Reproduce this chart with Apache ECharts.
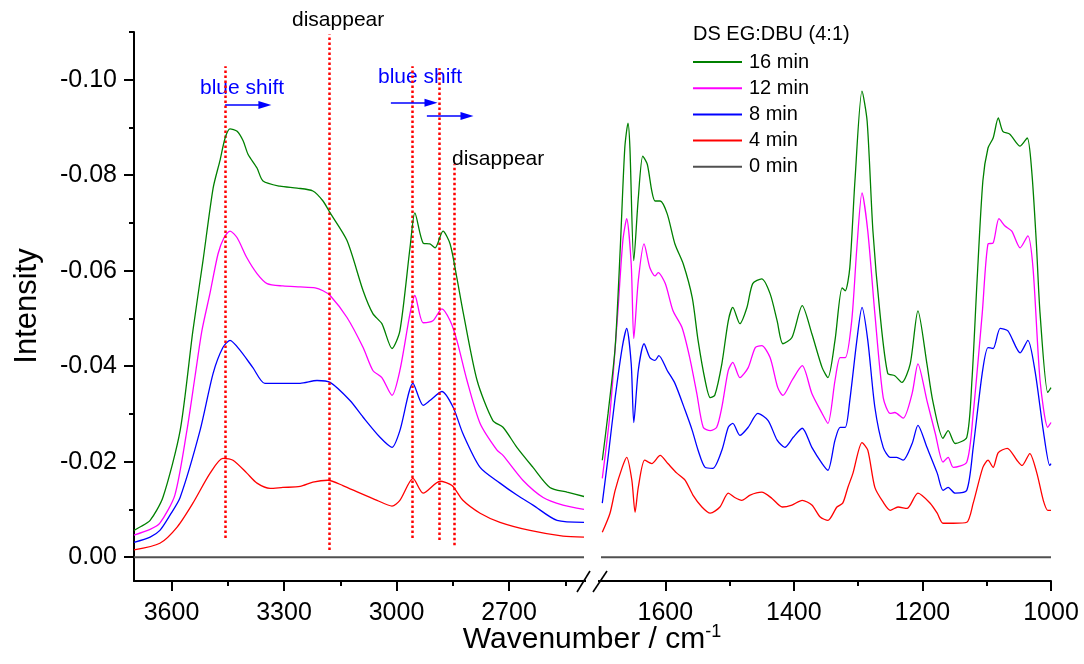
<!DOCTYPE html>
<html>
<head>
<meta charset="utf-8">
<script src="https://cdn.jsdelivr.net/npm/echarts@6/dist/echarts.min.js"></script>
<style>
html,body{margin:0;padding:0;background:#fff;}
#chart{width:1084px;height:664px;}
</style>
</head>
<body>
<div id="chart"></div>
<script>
// ---------- data (wavenumber cm-1, intensity) ----------
const names = ['16 min','12 min','8 min','4 min','0 min'];
const colors = ['#008000','#ff00ff','#0000ff','#ff0000','#505050'];

const g16L = [[3700,-0.0056],[3684,-0.0063],[3657,-0.0077],[3623,-0.0125],[3577,-0.0265],[3543,-0.0474],[3516,-0.0621],[3489,-0.0773],[3471,-0.083],[3457,-0.0878],[3444,-0.0897],[3425,-0.0892],[3409,-0.0872],[3396,-0.0844],[3372,-0.0815],[3356,-0.0788],[3311,-0.0777],[3265,-0.0773],[3223,-0.0767],[3196,-0.0746],[3177,-0.0721],[3132,-0.0663],[3089,-0.0558],[3063,-0.051],[3039,-0.0489],[3012,-0.0437],[2991,-0.0474],[2964,-0.0648],[2951,-0.0721],[2929,-0.0658],[2911,-0.0656],[2897,-0.0648],[2876,-0.0683],[2857,-0.0656],[2839,-0.0585],[2823,-0.0516],[2785,-0.037],[2743,-0.0286],[2716,-0.0272],[2679,-0.023],[2636,-0.0188],[2591,-0.0146],[2545,-0.0136],[2500,-0.0127]];
const m12L = [[3700,-0.0046],[3657,-0.0058],[3631,-0.0071],[3591,-0.013],[3559,-0.0265],[3537,-0.038],[3519,-0.0474],[3497,-0.0554],[3476,-0.0635],[3460,-0.0669],[3444,-0.0683],[3425,-0.0669],[3399,-0.0627],[3372,-0.0594],[3345,-0.0573],[3303,-0.0568],[3257,-0.0566],[3217,-0.0564],[3196,-0.0558],[3177,-0.0548],[3132,-0.0502],[3089,-0.0439],[3063,-0.0391],[3039,-0.0376],[3012,-0.0339],[2991,-0.0391],[2964,-0.051],[2951,-0.0548],[2929,-0.0491],[2903,-0.0495],[2879,-0.052],[2857,-0.0495],[2839,-0.0454],[2812,-0.037],[2777,-0.028],[2732,-0.0224],[2716,-0.0213],[2663,-0.0161],[2609,-0.0125],[2556,-0.0109],[2500,-0.01]];
const b8L = [[3700,-0.0031],[3657,-0.0042],[3631,-0.0056],[3604,-0.0088],[3577,-0.0125],[3524,-0.0265],[3489,-0.0385],[3463,-0.0439],[3444,-0.0454],[3417,-0.0433],[3383,-0.0397],[3351,-0.0364],[3303,-0.0364],[3257,-0.0364],[3212,-0.037],[3177,-0.0366],[3124,-0.0328],[3089,-0.0293],[3044,-0.0251],[3012,-0.023],[2991,-0.0265],[2956,-0.0364],[2929,-0.0318],[2911,-0.0328],[2879,-0.0347],[2849,-0.0314],[2823,-0.0259],[2777,-0.0188],[2724,-0.0155],[2679,-0.013],[2636,-0.0109],[2572,-0.0077],[2500,-0.0073]];
const r4L = [[3700,-0.0015],[3631,-0.0029],[3585,-0.0063],[3543,-0.0113],[3497,-0.0176],[3463,-0.0207],[3436,-0.0203],[3399,-0.0176],[3372,-0.0155],[3337,-0.0144],[3303,-0.0146],[3257,-0.0148],[3223,-0.0157],[3183,-0.0161],[3143,-0.015],[3097,-0.0134],[3052,-0.0119],[3012,-0.0107],[2991,-0.0119],[2956,-0.0165],[2929,-0.0134],[2884,-0.0159],[2852,-0.015],[2823,-0.0119],[2777,-0.0092],[2724,-0.0073],[2644,-0.0056],[2556,-0.0044],[2500,-0.0042]];
const z0L = [[3700,0],[2500,0]];

const g16R = [[1698,-0.0203],[1689,-0.0301],[1678,-0.0439],[1670,-0.0648],[1663,-0.0857],[1658,-0.0909],[1655,-0.0857],[1649,-0.0621],[1642,-0.0752],[1635,-0.084],[1628,-0.0823],[1621,-0.0767],[1616,-0.0746],[1608,-0.0746],[1597,-0.0719],[1585,-0.0656],[1572,-0.0614],[1558,-0.0543],[1549,-0.0454],[1538,-0.037],[1530,-0.0334],[1523,-0.0339],[1512,-0.0405],[1502,-0.0495],[1495,-0.0523],[1484,-0.0489],[1473,-0.0523],[1464,-0.0573],[1450,-0.0583],[1437,-0.0552],[1426,-0.0495],[1417,-0.0447],[1403,-0.046],[1387,-0.0527],[1372,-0.0468],[1356,-0.0397],[1347,-0.0376],[1336,-0.0454],[1325,-0.0564],[1320,-0.0558],[1313,-0.0606],[1305,-0.0788],[1294,-0.0976],[1286,-0.0913],[1277,-0.0683],[1266,-0.051],[1254,-0.0385],[1243,-0.038],[1232,-0.0366],[1219,-0.0405],[1207,-0.0516],[1193,-0.0405],[1184,-0.0328],[1168,-0.0249],[1160,-0.0265],[1149,-0.0238],[1131,-0.0251],[1123,-0.037],[1115,-0.0579],[1106,-0.0788],[1098,-0.0857],[1090,-0.0878],[1082,-0.092],[1075,-0.0892],[1064,-0.0886],[1048,-0.0861],[1037,-0.0878],[1030,-0.0809],[1023,-0.0663],[1017,-0.051],[1005,-0.0345],[1000,-0.0355]];
const m12R = [[1698,-0.0165],[1686,-0.0301],[1674,-0.051],[1666,-0.0663],[1660,-0.0709],[1653,-0.0614],[1649,-0.0458],[1642,-0.0579],[1633,-0.0656],[1624,-0.0606],[1616,-0.0589],[1611,-0.0596],[1600,-0.0573],[1588,-0.0516],[1574,-0.0481],[1562,-0.0418],[1551,-0.0343],[1541,-0.0272],[1530,-0.0265],[1520,-0.0272],[1512,-0.0314],[1502,-0.0391],[1495,-0.0408],[1484,-0.0376],[1471,-0.0397],[1460,-0.0439],[1450,-0.0443],[1437,-0.0418],[1425,-0.0355],[1417,-0.0339],[1403,-0.037],[1387,-0.0401],[1372,-0.0343],[1356,-0.0301],[1347,-0.028],[1336,-0.037],[1328,-0.0418],[1320,-0.0418],[1310,-0.0495],[1302,-0.0648],[1294,-0.0763],[1285,-0.0683],[1274,-0.051],[1261,-0.0334],[1250,-0.0301],[1243,-0.0303],[1230,-0.0291],[1216,-0.0343],[1207,-0.0405],[1193,-0.0328],[1180,-0.0259],[1168,-0.0199],[1160,-0.0209],[1152,-0.0188],[1131,-0.0199],[1121,-0.0301],[1107,-0.051],[1098,-0.0656],[1090,-0.0658],[1081,-0.0709],[1072,-0.0694],[1061,-0.0683],[1048,-0.0648],[1036,-0.0673],[1028,-0.0606],[1017,-0.037],[1005,-0.0272],[1000,-0.0282]];
const b8R = [[1698,-0.0113],[1689,-0.0209],[1678,-0.0334],[1667,-0.0439],[1660,-0.0479],[1653,-0.0405],[1649,-0.0282],[1642,-0.0391],[1633,-0.0447],[1624,-0.0418],[1616,-0.0412],[1610,-0.0422],[1597,-0.0391],[1585,-0.0364],[1569,-0.0307],[1558,-0.0265],[1549,-0.0224],[1538,-0.0188],[1526,-0.0186],[1512,-0.0224],[1502,-0.0272],[1495,-0.028],[1484,-0.0255],[1471,-0.0272],[1456,-0.0301],[1440,-0.0286],[1426,-0.0245],[1414,-0.023],[1401,-0.0251],[1387,-0.027],[1372,-0.023],[1356,-0.0196],[1347,-0.0182],[1336,-0.0245],[1328,-0.0272],[1320,-0.0272],[1313,-0.0328],[1302,-0.0454],[1294,-0.0523],[1285,-0.0454],[1274,-0.0314],[1261,-0.023],[1250,-0.0209],[1240,-0.0209],[1230,-0.0203],[1216,-0.0238],[1207,-0.0276],[1193,-0.023],[1177,-0.0176],[1168,-0.014],[1160,-0.0146],[1149,-0.0134],[1131,-0.014],[1121,-0.023],[1107,-0.0385],[1098,-0.0439],[1090,-0.0437],[1079,-0.0479],[1067,-0.0474],[1048,-0.0428],[1036,-0.0454],[1025,-0.0391],[1012,-0.0265],[1002,-0.0192],[1000,-0.0196]];
const r4R = [[1698,-0.0052],[1686,-0.0092],[1678,-0.014],[1667,-0.0188],[1660,-0.0209],[1652,-0.0161],[1647,-0.0094],[1642,-0.0146],[1632,-0.0203],[1621,-0.0196],[1608,-0.0213],[1596,-0.0196],[1582,-0.0176],[1569,-0.0161],[1557,-0.013],[1543,-0.0105],[1530,-0.0092],[1515,-0.0105],[1502,-0.0134],[1492,-0.0125],[1481,-0.0119],[1468,-0.013],[1450,-0.0136],[1434,-0.0123],[1418,-0.0105],[1403,-0.0109],[1387,-0.0119],[1372,-0.0109],[1359,-0.0084],[1347,-0.0077],[1333,-0.0105],[1324,-0.0113],[1316,-0.0146],[1308,-0.0176],[1294,-0.024],[1285,-0.0224],[1274,-0.0146],[1261,-0.0115],[1250,-0.0098],[1238,-0.0105],[1224,-0.0102],[1207,-0.0134],[1188,-0.0113],[1177,-0.0092],[1168,-0.0071],[1152,-0.0071],[1131,-0.0073],[1121,-0.0113],[1106,-0.0188],[1098,-0.0203],[1090,-0.0188],[1082,-0.0219],[1068,-0.0228],[1053,-0.0203],[1045,-0.0192],[1033,-0.0217],[1022,-0.0176],[1012,-0.0119],[1005,-0.0098],[1000,-0.0098]];
const z0R = [[1700,0],[1000,0]];

// tick values
const xLeftMajor = [3600,3300,3000,2700];
const xLeftMinor = [3450,3150,2850,2550];
const xRightMajor = [1600,1400,1200,1000];
const xRightMinor = [1500,1300,1100];
const yMajor = [-0.10,-0.08,-0.06,-0.04,-0.02,0];
const yMinor = [-0.11,-0.09,-0.07,-0.05,-0.03,-0.01];

// annotations: [wavenumber, bottom value, top value]
const dropLines = [[3457,-0.004,-0.1028],[3180,-0.0015,-0.1095],[2958,-0.004,-0.1028],[2887,-0.0036,-0.1024],[2847,-0.0025,-0.0823]];
// arrows: [from, to, value]
const arrows = [[3457,3351,-0.0947],[3015,2908,-0.0952],[2919,2812,-0.0924]];

// ---------- chart ----------
const FONT = "'Liberation Sans', Arial, sans-serif";
const chart = echarts.init(document.getElementById('chart'), null, {renderer:'canvas'});

function majorX(grid, min, max, vals){
  return {gridIndex:grid, type:'value', min:min, max:max, inverse:true, position:'bottom',
    axisLine:{show:true, onZero:false, lineStyle:{color:'#000', width:2}},
    axisTick:{show:true, customValues:vals, length:10, lineStyle:{color:'#000', width:2}},
    axisLabel:{show:true, customValues:vals, fontSize:25, color:'#000', fontFamily:FONT, margin:20,
      formatter: v => String(Math.round(v))},
    splitLine:{show:false}};
}
function minorX(grid, min, max, vals){
  return {gridIndex:grid, type:'value', min:min, max:max, inverse:true, position:'bottom',
    axisLine:{show:false, onZero:false},
    axisTick:{show:true, customValues:vals, length:5, lineStyle:{color:'#000', width:2}},
    axisLabel:{show:false}, splitLine:{show:false}};
}
const yBase = {type:'value', min:-0.11, max:0.005, inverse:true, position:'left', splitLine:{show:false}};

const series = [];
const leftData = [g16L, m12L, b8L, r4L, z0L];
const rightData = [g16R, m12R, b8R, r4R, z0R];
for (let i = 0; i < 5; i++) {
  const common = {type:'line', name:names[i], symbol:'none', showSymbol:false,
    smooth: i < 4 ? 0.25 : false, color:colors[i],
    lineStyle:{color:colors[i], width: i < 4 ? 1.3 : 2}, emphasis:{disabled:true}, z: 5 - i};
  series.push(Object.assign({}, common, {xAxisIndex:0, yAxisIndex:0, data:leftData[i]}));
  series.push(Object.assign({}, common, {xAxisIndex:2, yAxisIndex:2, data:rightData[i]}));
}
series.push({type:'line', name:'_drop', xAxisIndex:0, yAxisIndex:0, data:[], silent:true,
  markLine:{silent:true, symbol:['none','none'], animation:false, label:{show:false},
    lineStyle:{color:'#ff0000', width:2.5, type:[2.5,2.5]},
    data: dropLines.map(d => [{coord:[d[0], d[1]]}, {coord:[d[0], d[2]]}])}});
series.push({type:'line', name:'_arrow', xAxisIndex:0, yAxisIndex:0, data:[], silent:true,
  markLine:{silent:true, symbol:['none','triangle'], symbolSize:[8,13], animation:false, label:{show:false},
    lineStyle:{color:'#0000ff', width:1.6, type:'solid'},
    data: arrows.map(a => [{coord:[a[0], a[2]]}, {coord:[a[1], a[2]]}])}});

const option = {
  animation:false,
  backgroundColor:'#fff',
  grid:[
    {left:134, top:32, width:450, height:549},
    {left:601, top:32, width:450, height:549}
  ],
  xAxis:[
    majorX(0, 2500, 3700, xLeftMajor),
    minorX(0, 2500, 3700, xLeftMinor),
    majorX(1, 1000, 1700, xRightMajor),
    minorX(1, 1000, 1700, xRightMinor)
  ],
  yAxis:[
    Object.assign({}, yBase, {gridIndex:0,
      axisLine:{show:true, onZero:false, lineStyle:{color:'#000', width:2}},
      axisTick:{show:true, customValues:yMajor, length:10, lineStyle:{color:'#000', width:2}},
      axisLabel:{show:true, customValues:yMajor, fontSize:25, color:'#000', fontFamily:FONT, margin:17,
        formatter: v => Number(v).toFixed(2)}}),
    Object.assign({}, yBase, {gridIndex:0,
      axisLine:{show:false, onZero:false},
      axisTick:{show:true, customValues:yMinor, length:5, lineStyle:{color:'#000', width:2}},
      axisLabel:{show:false}}),
    Object.assign({}, yBase, {gridIndex:1, show:false})
  ],
  legend:{
    data:names.map(n => ({name:n, icon:'rect'})), orient:'vertical', left:693, top:52, padding:0,
    itemWidth:49, itemHeight:2, itemGap:6.2, itemStyle:{borderWidth:0},
    selectedMode:false,
    textStyle:{fontSize:20, color:'#000', fontFamily:FONT, padding:[0,0,0,2]}
  },
  graphic:[
    {type:'text', left:693, top:24, style:{text:'DS EG:DBU (4:1)', font:'20px ' + FONT, fill:'#000'}},
    {type:'text', x:200, y:88, style:{text:'blue shift', font:'21px ' + FONT, fill:'#0000ff', textVerticalAlign:'middle'}},
    {type:'text', x:378, y:77, style:{text:'blue shift', font:'21px ' + FONT, fill:'#0000ff', textVerticalAlign:'middle'}},
    {type:'text', x:292, y:20, style:{text:'disappear', font:'21px ' + FONT, fill:'#000', textVerticalAlign:'middle'}},
    {type:'text', x:452, y:159, style:{text:'disappear', font:'21px ' + FONT, fill:'#000', textVerticalAlign:'middle'}},
    {type:'text', x:27, y:306, rotation:Math.PI/2,
      style:{text:'Intensity', font:'31px ' + FONT, fill:'#000', textAlign:'center', textVerticalAlign:'middle'}},
    {type:'text', x:592, y:640,
      style:{text:'{a|Wavenumber / cm}{b|-1}', fill:'#000', textAlign:'center', textVerticalAlign:'middle',
        rich:{a:{fontSize:30, fontFamily:FONT, lineHeight:34, fill:'#000', color:'#000'},
              b:{fontSize:18, fontFamily:FONT, verticalAlign:'top', lineHeight:18, fill:'#000', color:'#000'}}}},
    {type:'rect', shape:{x:585, y:570, width:15, height:22}, style:{fill:'#fff'}, z:50},
    {type:'line', shape:{x1:577, y1:592, x2:590, y2:571}, style:{stroke:'#000', lineWidth:1.6}, z:51},
    {type:'line', shape:{x1:593, y1:592, x2:607, y2:571}, style:{stroke:'#000', lineWidth:1.6}, z:51},
    {type:'line', shape:{x1:583, y1:581, x2:586, y2:581}, style:{stroke:'#000', lineWidth:2}, z:51},
    {type:'line', shape:{x1:598, y1:581, x2:601, y2:581}, style:{stroke:'#000', lineWidth:2}, z:51}
  ],
  series: series
};
chart.setOption(option);
</script>
</body>
</html>
